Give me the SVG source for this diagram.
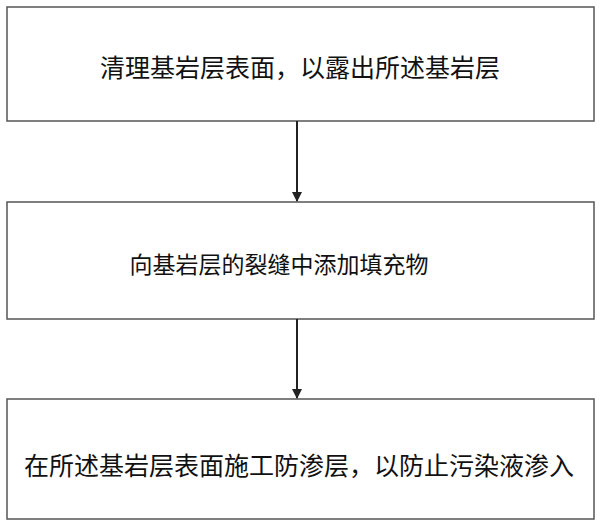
<svg xmlns="http://www.w3.org/2000/svg" width="600" height="527" viewBox="0 0 600 527">
<style>
.b{fill:#fff;stroke:#555;stroke-width:1.5}
.t{font-family:"Noto Sans CJK SC",sans-serif;font-size:25px;fill:#111;text-anchor:middle}
.c{stroke:#222;stroke-width:2;fill:none}
</style>
<defs><marker id="a" markerWidth="10" markerHeight="10" refX="9" refY="5" orient="auto" markerUnits="userSpaceOnUse"><path d="M0,0L10,5L0,10z" fill="#222"/></marker></defs>
<rect width="600" height="527" fill="#fff"/>
<g id="n1"><rect class="b" x="7" y="7" width="587" height="114"/><text class="t" x="300" y="77">清理基岩层表面，以露出所述基岩层</text></g>
<g id="n2"><rect class="b" x="7" y="202" width="587" height="117"/><text class="t" x="279" y="273" style="font-size:23px">向基岩层的裂缝中添加填充物</text></g>
<g id="n3"><rect class="b" x="7" y="399" width="587" height="120"/><text class="t" x="299" y="475">在所述基岩层表面施工防渗层，以防止污染液渗入</text></g>
<g id="connectors"><line class="c" x1="297" y1="121" x2="297" y2="201" marker-end="url(#a)"/><line class="c" x1="297" y1="319" x2="297" y2="398" marker-end="url(#a)"/></g>
</svg>
